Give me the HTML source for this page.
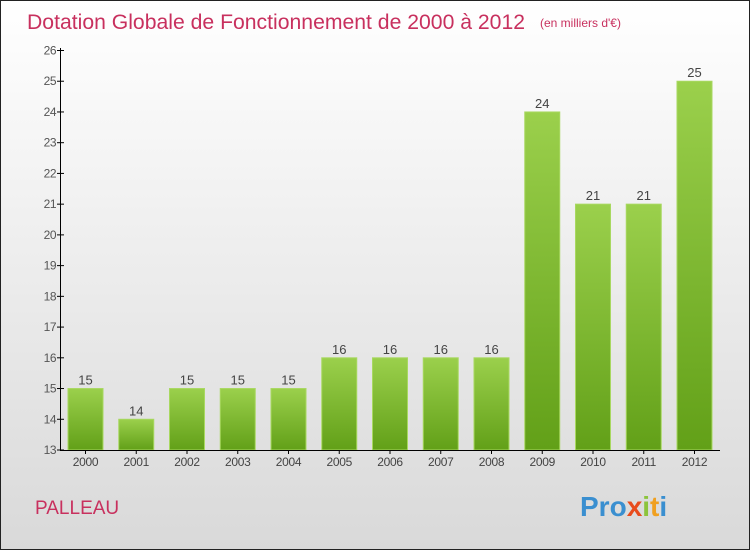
<!DOCTYPE html>
<html><head><meta charset="utf-8"><style>
body{margin:0}
svg text{font-family:"Liberation Sans","DejaVu Sans",sans-serif}
</style></head><body>
<svg width="750" height="550" viewBox="0 0 750 550" xmlns="http://www.w3.org/2000/svg">
<defs>
<linearGradient id="bg" x1="0" y1="0" x2="0" y2="1"><stop offset="0" stop-color="#ffffff"/><stop offset="1" stop-color="#d9d9d9"/></linearGradient>
<linearGradient id="bar" x1="0" y1="0" x2="0" y2="1"><stop offset="0" stop-color="#9bd04c"/><stop offset="1" stop-color="#62a018"/></linearGradient>
</defs>
<rect x="0.5" y="0.5" width="749" height="549" fill="url(#bg)" stroke="#222"/>
<text x="27" y="29" font-size="21" fill="#c8305e" textLength="498" lengthAdjust="spacingAndGlyphs">Dotation Globale de Fonctionnement de 2000 à 2012</text>
<text x="540" y="27" font-size="12" fill="#c8305e">(en milliers d'€)</text>
<g id="yaxis"></g>
<g id="bars"></g>
<g id="xaxis"></g>
<text x="35" y="514" font-size="19" fill="#c8305e">PALLEAU</text>
<text x="580" y="516" font-size="28" font-weight="bold"><tspan fill="#3a8fd0">Pro</tspan><tspan fill="#e84b1c">x</tspan><tspan fill="#8cc43c">i</tspan><tspan fill="#f0a020">t</tspan><tspan fill="#3a8fd0">i</tspan></text>
</svg>
<script>
const categories=["2000","2001","2002","2003","2004","2005","2006","2007","2008","2009","2010","2011","2012"];
const values=[15,14,15,15,15,16,16,16,16,24,21,21,25];
const yTicks=[13,14,15,16,17,18,19,20,21,22,23,24,25,26];
const NS="http://www.w3.org/2000/svg";
const yMin=13,yMax=26,y0=450,y1=50.5;
const y=v=>y0-(v-yMin)*(y0-y1)/(yMax-yMin);
const x=i=>85.5+i*50.75;
function mk(t,a,p,txt){const e=document.createElementNS(NS,t);for(const k in a)e.setAttribute(k,a[k]);if(txt!==undefined)e.textContent=txt;p.appendChild(e);return e;}
const ya=document.getElementById('yaxis'),ba=document.getElementById('bars'),xa=document.getElementById('xaxis');
yTicks.forEach(t=>{
 const l=mk('line',{x1:57,x2:64,y1:y(t),y2:y(t),stroke:'#000'},ya);
 
 
 const tx=mk('text',{x:56,y:y(t)+4,'font-size':12,fill:'#555','text-anchor':'end','letter-spacing':'-0.5'},ya,t);
 
 
});
const al=mk('line',{x1:60.5,x2:60.5,y1:48,y2:450,stroke:'#000'},ya);


values.forEach((v,i)=>{
 const r=mk('rect',{x:x(i)-17.5,y:y(v),width:35,height:y0-y(v),fill:'url(#bar)',stroke:'#a8d860','stroke-width':1},ba);
 
 
 const t=mk('text',{x:x(i),y:y(v)-4,'font-size':13,fill:'#444','text-anchor':'middle'},ba,v);
 
 
 const c=mk('text',{x:x(i),y:466,'font-size':12,fill:'#444','text-anchor':'middle','letter-spacing':'-0.3'},xa,categories[i]);
 
 
 const tk=mk('line',{x1:x(i),x2:x(i),y1:450,y2:454,stroke:'#000'},xa);
 
 
});
const xl=mk('line',{x1:60,x2:720,y1:450.5,y2:450.5,stroke:'#000'},xa);


</script>
</body></html>
